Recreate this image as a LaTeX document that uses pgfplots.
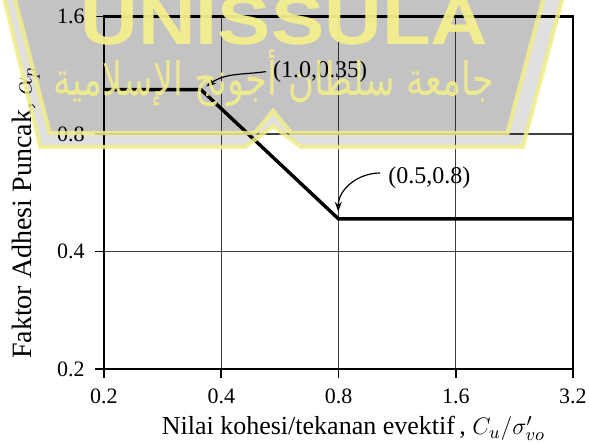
\documentclass[border=0pt]{standalone}
\usepackage{fontspec}
\setmainfont{Liberation Serif}
\newfontfamily\wmsans{Liberation Sans}
\newfontfamily\arabicfont[Script=Arabic]{DejaVu Sans}
\TeXXeTstate=1
\usepackage{graphicx}
\usepackage{pgfplots}
\pgfplotsset{compat=1.18}
\usetikzlibrary{arrows.meta}
\definecolor{wmyellow}{RGB}{242,238,140}

\begin{document}
\begin{tikzpicture}
\useasboundingbox (0,0) rectangle (294.5bp,221.5bp);
\begin{axis}[
  at={(52bp,37bp)}, anchor=south west,
  scale only axis, width=234.5bp, height=176.15bp,
  xmode=log, ymode=log, log basis x=2, log basis y=2,
  xmin=0.2, xmax=3.2, ymin=0.2, ymax=1.6,
  xtick={0.2,0.4,0.8,1.6,3.2}, xticklabels={0.2,0.4,0.8,1.6,3.2},
  ytick={0.2,0.4,0.8,1.6}, yticklabels={0.2,0.4,0.8,1.6},
  xminorticks=false, yminorticks=false,
  xtick pos=bottom, ytick pos=left,
  tick align=outside, major tick length=4.5bp,
  grid=major, major grid style={black!75, line width=0.65bp},
  axis line style={line width=1.2bp},
  every tick/.style={black, line width=0.8bp},
  tick label style={font=\fontsize{11bp}{13bp}\selectfont},
  /pgf/number format/assume math mode=true,
  xticklabel style={anchor=base, yshift=-13bp, inner sep=0pt},
  yticklabel style={anchor=east, xshift=-5bp, inner sep=0pt},
  xlabel={Nilai kohesi/tekanan evektif\,, $C_u/\sigma'_{vo}$},
  ylabel={Faktor Adhesi Puncak, $\alpha_p$},
  xlabel style={at={(axis description cs:0.532,-0.187)}, anchor=base, font=\fontsize{13bp}{15bp}\selectfont, inner sep=0pt},
  ylabel style={at={(axis description cs:-0.1542,0.443)}, anchor=base, font=\fontsize{14bp}{16bp}\selectfont, inner sep=0pt},
  clip=false,
]
\addplot[black, line width=1.7bp] coordinates {(0.2,1.04) (0.355,1.04) (0.8,0.485) (3.2,0.485)};
\draw[-{Stealth[length=5bp,width=3.5bp]}, line width=0.6bp] (axis cs:0.521,1.157) to[out=188,in=35] (axis cs:0.366,1.06);
\node[anchor=west, inner sep=0pt, font=\fontsize{12bp}{14bp}\selectfont] at (axis cs:0.542,1.157) {(1.0,0.35)};
\draw[-{Stealth[length=5bp,width=3.5bp]}, line width=0.6bp] (axis cs:1.023,0.636) to[out=180,in=90] (axis cs:0.799,0.506);
\node[anchor=west, inner sep=0pt, font=\fontsize{12bp}{14bp}\selectfont] at (axis cs:1.072,0.62) {(0.5,0.8)};
\end{axis}
\begin{scope}[yshift=221.5bp, x=0.5bp, y=-0.5bp]
\fill[black, opacity=0.12] (-10,-60) -- (578,-60) -- (522.7,147) -- (301,147) -- (273,126) -- (245,147) -- (40.3,147) -- cycle;
\fill[black, opacity=0.13] (-0.6,-60) -- (559,-60) -- (507.5,133) -- (291,133) -- (273,111) -- (255,133) -- (49.6,133) -- cycle;
\draw[wmyellow, opacity=0.85, line width=2.2bp] (-10,-60) -- (578,-60) -- (522.7,147) -- (301,147) -- (273,126) -- (245,147) -- (40.3,147) -- cycle;
\draw[wmyellow, opacity=0.85, line width=2.2bp] (-0.6,-60) -- (559,-60) -- (507.5,133) -- (291,133) -- (273,111) -- (255,133) -- (49.6,133) -- cycle;
\node[text=wmyellow, text opacity=0.95, anchor=base, inner sep=0pt] at (284.5,45) {\resizebox{204bp}{24bp}{\wmsans\bfseries UNISSULA}};
\node[text=wmyellow, text opacity=0.9, anchor=center, inner sep=0pt] at (274,78) {\resizebox{220bp}{23bp}{\arabicfont\beginR جامعة سلطان أجونج الإسلامية\endR}};
\end{scope}
\end{tikzpicture}
\end{document}
